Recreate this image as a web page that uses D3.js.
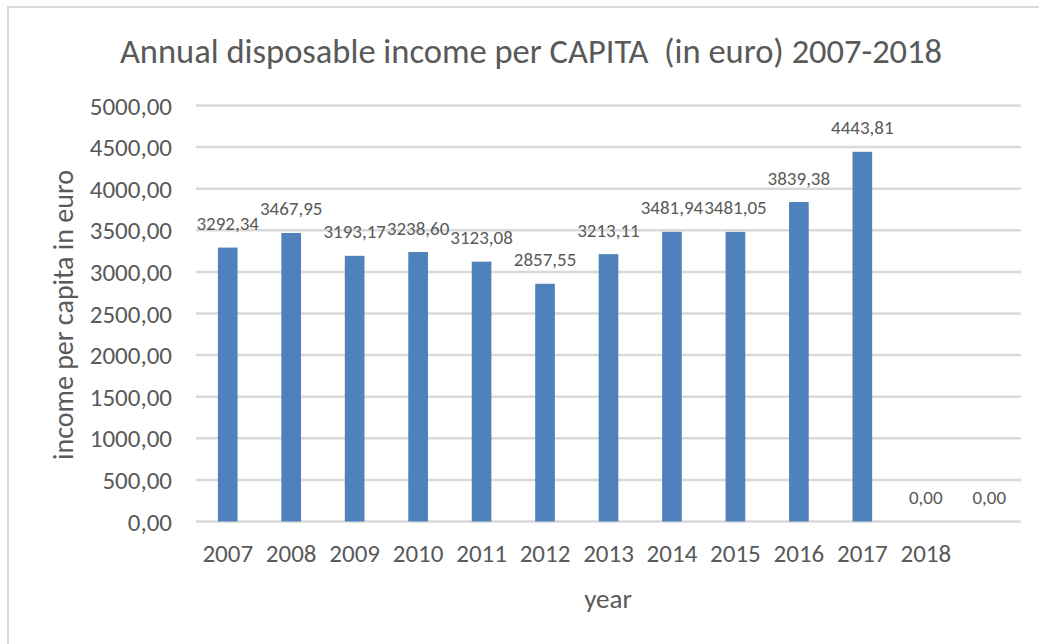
<!DOCTYPE html>
<html>
<head>
<meta charset="utf-8">
<script src="https://cdn.jsdelivr.net/npm/d3@7"></script>
<style>
  html, body { margin: 0; padding: 0; background: #ffffff; }
  svg { display: block; }
  text { font-family: Carlito, Calibri, "Liberation Sans", Arial, sans-serif; fill: #595959; white-space: pre; }
</style>
</head>
<body>
<svg id="chart" width="1039" height="644"></svg>
<script>
// Annual disposable income per capita, in euro
const years = ["2007", "2008", "2009", "2010", "2011", "2012", "2013", "2014", "2015", "2016", "2017", "2018", ""];
const income = [3292.34, 3467.95, 3193.17, 3238.60, 3123.08, 2857.55, 3213.11, 3481.94, 3481.05, 3839.38, 4443.81, 0, 0];
const yTicks = [0, 500, 1000, 1500, 2000, 2500, 3000, 3500, 4000, 4500, 5000];

const titleText = "Annual disposable income per CAPITA  (in euro) 2007-2018";
const yTitle = "income per capita in euro";
const xTitle = "year";

const W = 1039, H = 644;
const plot = { left: 196, right: 1021, top: 105.5, bottom: 521.5 };

const locale = d3.formatLocale({ decimal: ",", thousands: "", grouping: [3], currency: ["", " €"] });
const fmt = locale.format(".2f");

const svg = d3.select("#chart");

// chart frame
svg.append("rect")
  .attr("x", 8).attr("y", 7)
  .attr("width", W + 10).attr("height", H + 10)
  .attr("fill", "#ffffff")
  .attr("stroke", "#d9d9d9")
  .attr("stroke-width", 2);

const x = d3.scaleBand()
  .domain(years.map((d, i) => i))
  .range([plot.left, plot.right])
  .paddingInner(0.69)
  .paddingOuter(0.345);

const y = d3.scaleLinear()
  .domain([0, 5000])
  .range([plot.bottom, plot.top]);

// horizontal gridlines
svg.append("g")
  .selectAll("line")
  .data(yTicks)
  .join("line")
  .attr("x1", plot.left).attr("x2", plot.right)
  .attr("y1", d => y(d)).attr("y2", d => y(d))
  .attr("stroke", "#d9d9d9")
  .attr("stroke-width", 2.5);

// y axis labels
const yAxis = svg.append("g")
  .attr("transform", `translate(${plot.left},0)`)
  .call(d3.axisLeft(y).tickValues(yTicks).tickFormat(fmt).tickSize(0).tickPadding(24));
yAxis.select(".domain").remove();
yAxis.selectAll("text")
  .attr("font-size", 25)
  .attr("font-family", null)
  .attr("dy", null)
  .attr("dominant-baseline", "central")
  .attr("fill", "#595959");

// x axis labels
const xAxis = svg.append("g")
  .attr("transform", `translate(0,${plot.bottom})`)
  .call(d3.axisBottom(x).tickFormat(i => years[i]).tickSize(0));
xAxis.select(".domain").remove();
xAxis.selectAll("text")
  .attr("font-size", 25)
  .attr("font-family", null)
  .attr("dy", null)
  .attr("y", 31.5)
  .attr("dominant-baseline", "central")
  .attr("fill", "#595959");

// bars
svg.append("g")
  .selectAll("rect")
  .data(income)
  .join("rect")
  .attr("x", (d, i) => x(i))
  .attr("width", x.bandwidth())
  .attr("y", d => y(d))
  .attr("height", d => y(0) - y(d))
  .attr("fill", "#4f81bd");

// value labels
svg.append("g")
  .selectAll("text")
  .data(income)
  .join("text")
  .attr("x", (d, i) => x(i) + x.bandwidth() / 2)
  .attr("y", d => y(d) - 24)
  .attr("text-anchor", "middle")
  .attr("dominant-baseline", "central")
  .attr("font-size", 19)
  .text(d => fmt(d));

// title
svg.append("text")
  .attr("x", 531).attr("y", 51)
  .attr("text-anchor", "middle")
  .attr("dominant-baseline", "central")
  .attr("font-size", 34.5)
  .text(titleText);

// axis titles
svg.append("text")
  .attr("transform", `translate(63,315) rotate(-90)`)
  .attr("text-anchor", "middle")
  .attr("dominant-baseline", "central")
  .attr("font-size", 28)
  .text(yTitle);

svg.append("text")
  .attr("x", 608).attr("y", 598)
  .attr("text-anchor", "middle")
  .attr("dominant-baseline", "central")
  .attr("font-size", 27)
  .text(xTitle);
</script>
</body>
</html>
